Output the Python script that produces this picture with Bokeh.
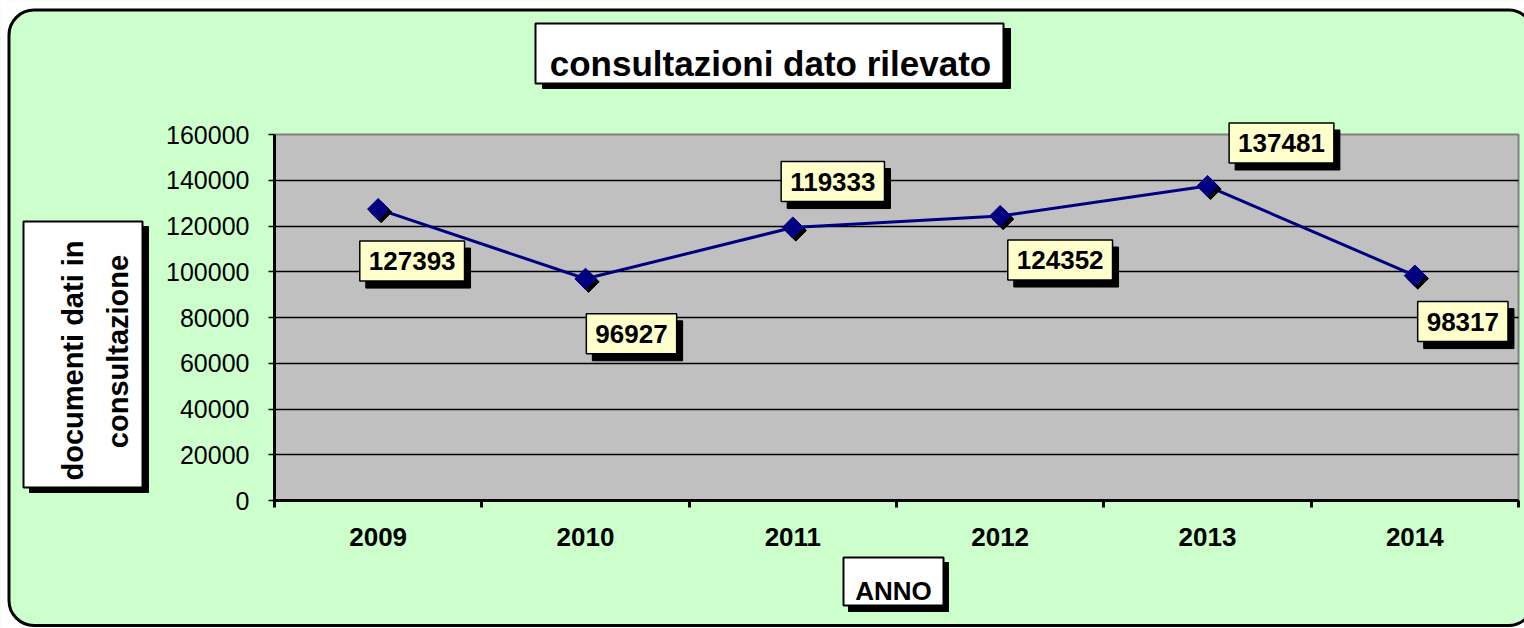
import math
from bokeh.plotting import figure
from bokeh.models import (Range1d, FixedTicker, BasicTickFormatter, BoxAnnotation,
                          Label, PolyAnnotation)
from bokeh.embed import file_html
from bokeh.resources import INLINE

# ---------------- data ----------------
years = ["2009", "2010", "2011", "2012", "2013", "2014"]
consultazioni = [127393, 96927, 119333, 124352, 137481, 98317]
y_ticks = [0, 20000, 40000, 60000, 80000, 100000, 120000, 140000, 160000]

title_text = "consultazioni dato rilevato"
y_title_lines = ["documenti dati in", "consultazione"]
x_title = "ANNO"

# ---------------- style ----------------
W, H = 1524, 628
# pixel box of the plot area inside the canvas
PL, PR, PT, PB = 274, 1518, 134, 500
GREEN = "#CCFFCC"
GRAY = "#C0C0C0"
NAVY = "#000080"
CREAM = "#FFFFCC"
FONT = "Liberation Sans"

# data-label offsets from their point, in pixels (x right, y up)
label_offsets = [(34, -52), (46, -55), (40, 46), (60, -44), (74, 43), (48, -46)]

xs = list(range(len(years)))
x0, x1 = -0.5, len(years) - 0.5
y0, y1 = y_ticks[0], y_ticks[-1]
ux = (x1 - x0) / (PR - PL)          # data units per pixel
uy = (y1 - y0) / (PB - PT)

p = figure(width=W, height=H, output_backend="svg", toolbar_location=None,
           x_range=Range1d(x0 - PL * ux, x1 + (W - PR) * ux),
           y_range=Range1d(y0 - (H - PB) * uy, y1 + PT * uy),
           min_border=0)

p.background_fill_color = GREEN
p.border_fill_color = GREEN
p.outline_line_color = None

# plot area
p.add_layout(BoxAnnotation(left=x0, right=x1, bottom=y0, top=y1, fill_color=GRAY,
                           fill_alpha=1, line_color="#808080", line_alpha=1,
                           line_width=2, level="image"))

# x axis: labels at category centres, ticks at category boundaries
xa = p.xaxis[0]
xa.fixed_location = y0
xa.bounds = (x0, x1)
xa.ticker = FixedTicker(ticks=xs, minor_ticks=[i - 0.5 for i in range(len(years) + 1)])
xa.major_label_overrides = {i: yr for i, yr in enumerate(years)}
xa.axis_line_color = "black"
xa.axis_line_width = 3
xa.major_tick_out = 0
xa.major_tick_in = 0
xa.minor_tick_out = 7
xa.minor_tick_in = 0
xa.minor_tick_line_width = 3
xa.minor_tick_line_color = "black"
xa.major_label_text_font = FONT
xa.major_label_text_font_size = "26px"
xa.major_label_text_font_style = "bold"
xa.major_label_text_color = "black"
xa.major_label_standoff = 20

ya = p.yaxis[0]
ya.fixed_location = x0
ya.bounds = (y0, y1)
ya.ticker = FixedTicker(ticks=y_ticks)
ya.formatter = BasicTickFormatter(use_scientific=False)
ya.axis_line_color = "black"
ya.axis_line_width = 3
ya.major_tick_out = 6
ya.major_tick_in = 0
ya.major_tick_line_width = 1.5
ya.major_tick_line_color = "black"
ya.minor_tick_out = 0
ya.minor_tick_in = 0
ya.major_label_text_font = FONT
ya.major_label_text_font_size = "25px"
ya.major_label_text_color = "black"
ya.major_label_standoff = 19

p.xgrid.visible = False
p.ygrid.ticker = FixedTicker(ticks=y_ticks[1:-1])
p.ygrid.cross_bounds = (x0, x1)
p.ygrid.grid_line_color = "black"
p.ygrid.grid_line_width = 1.5

# ---------------- series ----------------
p.line(xs, consultazioni, line_color=NAVY, line_width=3)
p.scatter([x + 3 * ux for x in xs], [v - 3 * uy for v in consultazioni], marker="square",
          angle=math.pi / 4, size=15, fill_color="black", line_color="black")
p.scatter(xs, consultazioni, marker="square", angle=math.pi / 4, size=15,
          fill_color=NAVY, line_color=NAVY)

# ---------------- outer rounded frame ----------------
R = 25
bx0, by0, bx1, by1 = 8.5, 9.5, 1533, 625


def corner(cx, cy, dx, dy):
    n = 18
    px, py = [], []
    for k in range(n + 1):
        t = math.radians(90 * k / n)
        px.append(cx + dx * R * math.sin(t))
        py.append(cy + dy * R * math.cos(t))
    e = R + 12
    px += [cx + dx * e, cx + dx * e, cx]
    py += [cy, cy + dy * e, cy + dy * e]
    return PolyAnnotation(xs=px, ys=py, xs_units="canvas", ys_units="canvas",
                          fill_color="white", fill_alpha=1, line_color=None)


# white page margin around the rounded chart area
def strip(l, t, r, b):
    return BoxAnnotation(left=l, right=r, top=t, bottom=b,
                         left_units="canvas", right_units="canvas",
                         top_units="canvas", bottom_units="canvas",
                         fill_color="white", fill_alpha=1, line_color=None)


p.add_layout(strip(0, 0, W, by0))
p.add_layout(strip(0, 0, bx0, H))
p.add_layout(strip(0, by1, W, H))
p.add_layout(corner(bx0 + R, by0 + R, -1, -1))
p.add_layout(corner(bx0 + R, by1 - R, -1, 1))
p.add_layout(corner(bx1 - R, by0 + R, 1, -1))
p.add_layout(corner(bx1 - R, by1 - R, 1, 1))
p.add_layout(BoxAnnotation(left=bx0, right=bx1, top=by0, bottom=by1,
                           left_units="canvas", right_units="canvas",
                           top_units="canvas", bottom_units="canvas",
                           fill_alpha=0, line_color="black", line_alpha=1, line_width=3,
                           border_radius=R))


def box(l, t, r, b, fill, lw):
    return BoxAnnotation(left=l, right=r, top=t, bottom=b,
                         left_units="canvas", right_units="canvas",
                         top_units="canvas", bottom_units="canvas",
                         fill_color=fill, fill_alpha=1, line_color="black",
                         line_alpha=1, line_width=lw)


# title
p.add_layout(box(542, 28, 1010, 88, "black", 1))
p.add_layout(box(535, 23, 1003, 83, "white", 2))
p.add_layout(Label(x=770, y=63, x_units="canvas", y_units="canvas", text=title_text,
                   text_align="center", text_baseline="alphabetic", text_font=FONT,
                   text_font_size="35px", text_font_style="bold", text_color="black"))

# y axis title
p.add_layout(box(29, 226, 148, 492, "black", 1))
p.add_layout(box(23, 221, 142, 487, "white", 2))
for (lx, ly), line in zip([(72, 360), (117, 351)], y_title_lines):
    p.add_layout(Label(x=lx, y=ly, x_units="canvas", y_units="canvas", text=line,
                       angle=math.pi / 2, text_align="center", text_baseline="alphabetic",
                       text_font=FONT, text_font_size="29px", text_font_style="bold",
                       text_color="black"))

# x axis title
p.add_layout(box(848, 562, 948, 611, "black", 1))
p.add_layout(box(843, 557, 943, 605, "white", 2))
p.add_layout(Label(x=893, y=590, x_units="canvas", y_units="canvas", text=x_title,
                   text_align="center", text_baseline="alphabetic", text_font=FONT,
                   text_font_size="26px", text_font_style="bold", text_color="black"))

# data labels with shadow
for x, v, (dx, dy) in zip(xs, consultazioni, label_offsets):
    common = dict(x=x, y=v, text=str(v), text_align="center", text_baseline="middle",
                  text_font=FONT, text_font_size="26px", text_font_style="bold",
                  padding=(9, 11))
    p.add_layout(Label(x_offset=dx + 6, y_offset=dy - 7, text_color="black",
                       background_fill_color="black", border_line_color="black",
                       **common))
    p.add_layout(Label(x_offset=dx, y_offset=dy, text_color="black",
                       background_fill_color=CREAM, border_line_color="black",
                       border_line_width=1.5, **common))

open("out.html", "w").write(file_html(p, INLINE))
